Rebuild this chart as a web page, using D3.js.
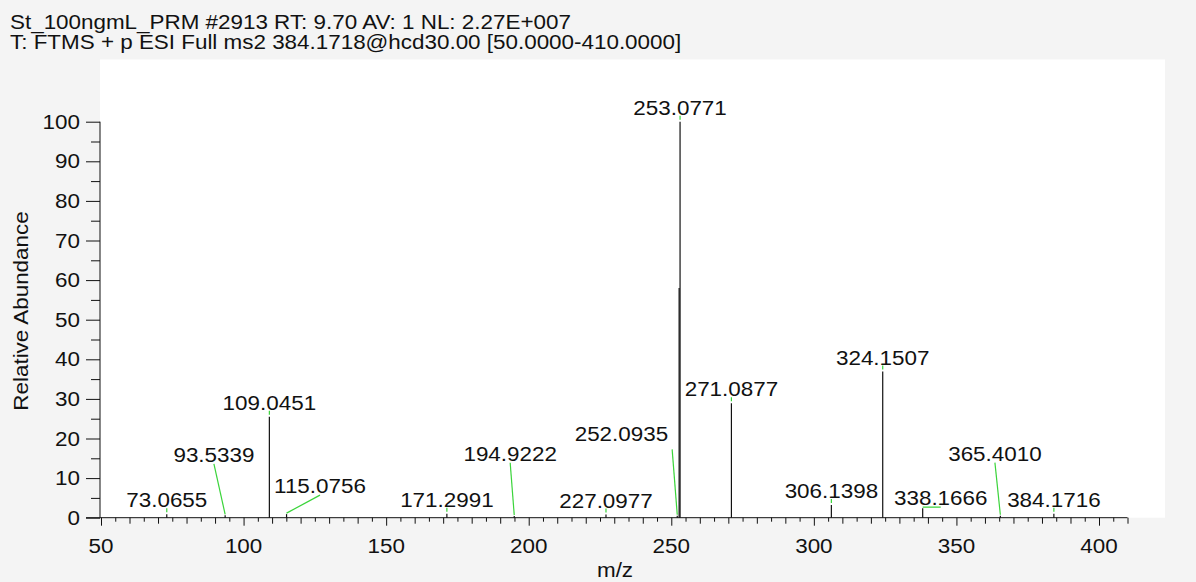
<!DOCTYPE html>
<html>
<head>
<meta charset="utf-8">
<script src="https://cdn.jsdelivr.net/npm/d3@7"></script>
<style>
  html, body { margin: 0; padding: 0; background: #f4f4f4; }
  svg { display: block; }
  text { font-family: "Liberation Sans", Arial, sans-serif; font-size: 19.5px; fill: #111; }
</style>
</head>
<body>
<svg id="chart" width="1196" height="582"></svg>
<script>
// Header lines of the scan
const headerLines = [
  "St_100ngmL_PRM #2913 RT: 9.70 AV: 1 NL: 2.27E+007",
  "T: FTMS + p ESI Full ms2 384.1718@hcd30.00 [50.0000-410.0000]"
];

// Centroided peaks: m/z and relative abundance (%)
const peakMz = [73.0655, 93.5339, 109.0451, 115.0756, 171.2991, 194.9222, 227.0977,
                252.0935, 252.75, 253.0771, 271.0877, 306.1398, 324.1507, 338.1666,
                365.4010, 384.1716];
const peakAbundance = [0.9, 0.6, 25.5, 0.9, 1.0, 0.4, 0.8,
                       0.5, 58, 100, 28.9, 3.2, 36.9, 2.4,
                       0.5, 1.0];

// Annotated peaks (m/z label text)
const labelledMz = ["73.0655", "93.5339", "109.0451", "115.0756", "171.2991", "194.9222",
                    "227.0977", "252.0935", "253.0771", "271.0877", "306.1398", "324.1507",
                    "338.1666", "365.4010", "384.1716"];
// Labels moved away from their peak: [m/z of text anchor, abundance of baseline, anchor]
const movedLabels = {
  "93.5339":  [89.6, 14.1, "middle"],
  "115.0756": [126.8, 6.2, "middle"],
  "194.9222": [193.5, 14.4, "middle"],
  "252.0935": [248.9, 19.4, "end"],
  "338.1666": [344.5, 3.2, "middle"],
  "365.4010": [363.5, 14.4, "middle"]
};

// Axis ticks
const xTickLabels = [50, 100, 150, 200, 250, 300, 350, 400];
const yTickLabels = [0, 10, 20, 30, 40, 50, 60, 70, 80, 90, 100];
const xDomain = [50, 410];
const yDomain = [0, 100];

const SX = 1.15;          // horizontal glyph stretch of the instrument font
const svg = d3.select("#chart");

const x = d3.scaleLinear().domain([50, 400]).range([101, 1099]);
const y = d3.scaleLinear().domain(yDomain).range([517.7, 121.7]);

function label(parent, px, py, str, anchor, rotate) {
  const g = parent.append("g")
    .attr("transform", `translate(${px},${py})` + (rotate ? ` rotate(${rotate})` : "") + ` scale(${SX},1)`);
  g.append("text").attr("text-anchor", anchor || "start").text(str);
  return g;
}

// Plot area
svg.append("rect")
  .attr("x", 100).attr("y", 59.5)
  .attr("width", 1065).attr("height", 517.7 - 59.5)
  .attr("fill", "#ffffff");

// Header
headerLines.forEach((t, i) => label(svg, 10, 29 + i * 20, t, "start"));

// Y axis
const yAxisG = svg.append("g").attr("transform", "translate(100,0)");
yAxisG.call(d3.axisLeft(y).tickValues(d3.range(0, 101, 5)).tickSize(9).tickFormat(""));
yAxisG.call(g => g.selectAll(".tick line")
  .filter(d => d % 10 === 0).attr("x2", -14));
yAxisG.select(".domain").attr("d", `M0,${y(0)}V${y(100)}`);
yAxisG.selectAll("line, path").attr("stroke", "#111");
yTickLabels.forEach(v => label(svg, 80, y(v) + 7, String(v), "end"));
label(svg, 28, 311, "Relative Abundance", "middle", -90);

// X axis
const xAxisG = svg.append("g").attr("transform", `translate(0,${y(0)})`);
const xTicks = d3.range(xDomain[0], xDomain[1] + 0.1, 5);
xAxisG.call(d3.axisBottom(x).tickValues(xTicks).tickSize(4).tickFormat(""));
xAxisG.call(g => g.selectAll(".tick line")
  .attr("y2", d => d % 50 === 0 ? 8 : (d % 10 === 0 ? 6 : 4)));
xAxisG.select(".domain").attr("d", `M${x(xDomain[0]) - 15},0H${x(xDomain[1])}`);
xAxisG.selectAll("line, path").attr("stroke", "#111");
xTickLabels.forEach(v => label(svg, x(v), y(0) + 35.3, String(v), "middle"));
label(svg, 615, 577, "m/z", "middle");

// Peaks
svg.append("g").selectAll("line")
  .data(peakMz.map((m, i) => ({ m, a: peakAbundance[i] })))
  .join("line")
  .attr("x1", d => x(d.m)).attr("x2", d => x(d.m))
  .attr("y1", y(0)).attr("y2", d => y(d.a))
  .attr("stroke", "#111").attr("stroke-width", 1.2);

// Peak annotations with green leaders
const annG = svg.append("g");
labelledMz.forEach(t => {
  const m = +t;
  const i = peakMz.indexOf(m);
  const px = x(m), top = y(peakAbundance[i]);
  const moved = movedLabels[t];
  if (moved) {
    const lx = x(moved[0]), ly = y(moved[1]);
    label(annG, lx, ly, t, moved[2]);
    const sx = moved[2] === "end" ? lx + 4 : lx;
    const sy = moved[2] === "end" ? ly + 8.5 : ly + 2;
    annG.append("line")
      .attr("x1", sx).attr("y1", sy).attr("x2", px).attr("y2", top - 1)
      .attr("stroke", "#3ad43a").attr("stroke-width", 1.2);
  } else {
    label(annG, px, top - 7, t, "middle");
    annG.append("line")
      .attr("x1", px).attr("x2", px).attr("y1", top - 2).attr("y2", top - 6)
      .attr("stroke", "#3ad43a").attr("stroke-width", 1.2);
  }
});
</script>
</body>
</html>
